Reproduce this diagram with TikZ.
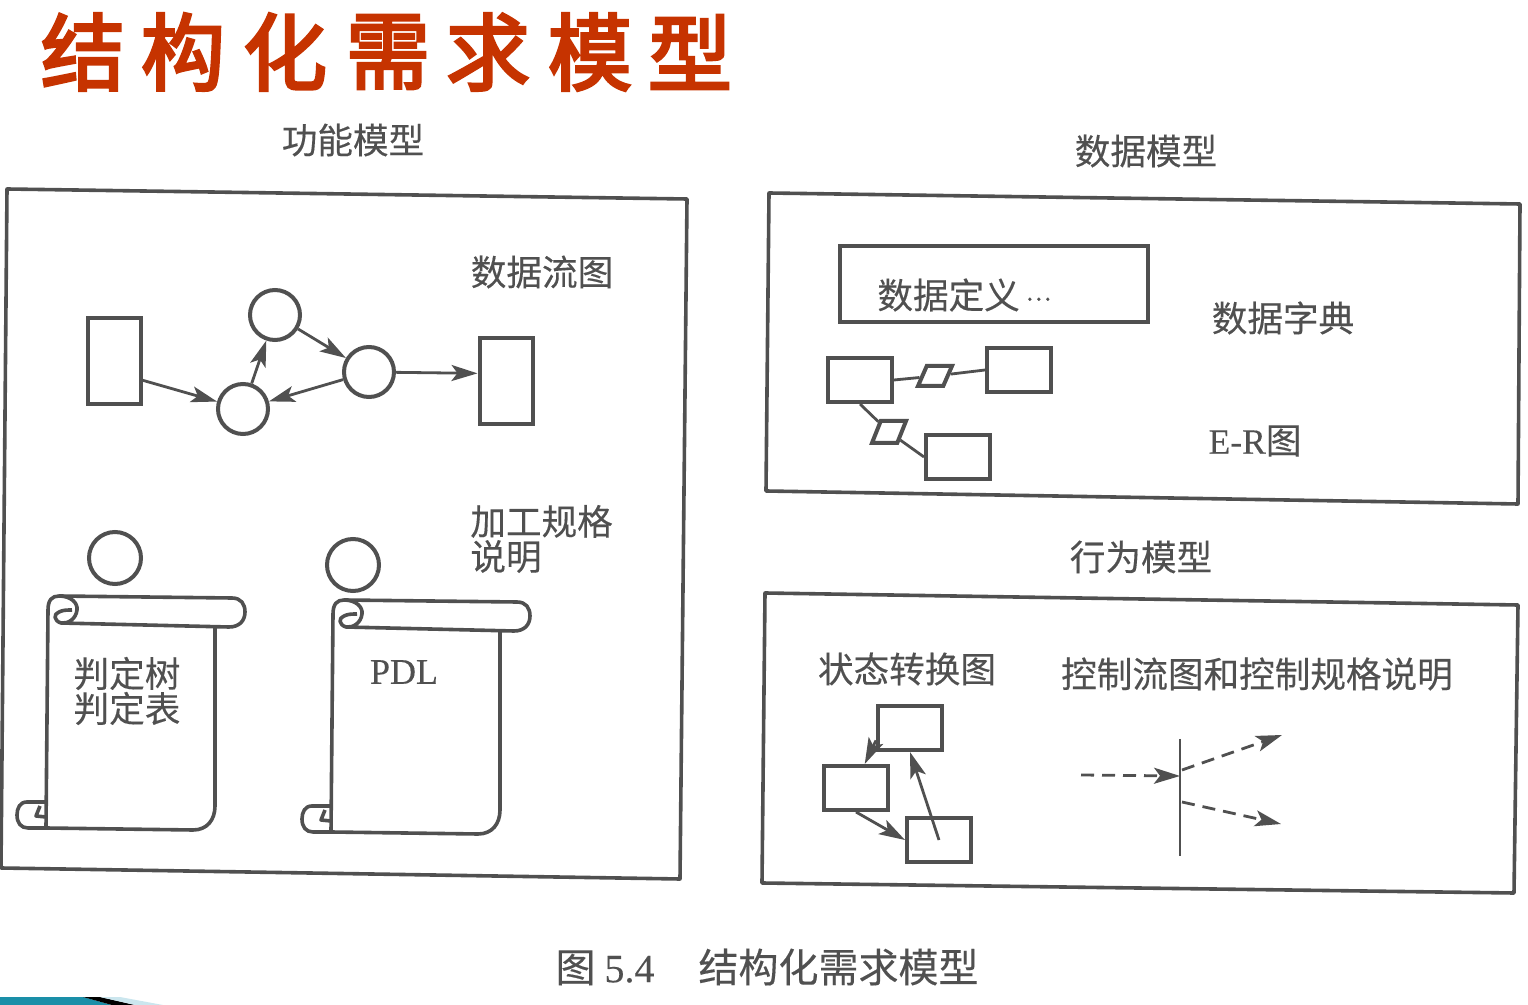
\documentclass[tikz,border=0pt]{standalone}
\usepackage{fontspec}
\setmainfont[FakeBold=0.3]{Liberation Serif}
\newfontfamily\cjk[FakeBold=0.3]{Noto Sans CJK SC}
\newfontfamily\cjktitle[FakeBold=3.5]{Noto Sans CJK SC}
\usetikzlibrary{arrows.meta,shapes.geometric}
\definecolor{inkgray}{HTML}{505050}
\definecolor{titlered}{HTML}{C63300}
\definecolor{cornerteal}{HTML}{1A8FA8}
\definecolor{cornerpale}{HTML}{CBE6EE}
\tikzset{
  frameline/.style={draw=inkgray, line width=1.8pt, line join=round},
  rectbox/.style={draw=inkgray, line width=2pt, rectangle, inner sep=0pt},
  proc/.style={draw=inkgray, line width=2pt, circle, inner sep=0pt, minimum size=25pt},
  rel/.style={draw=inkgray, line width=2pt, trapezium, trapezium left angle=62, trapezium right angle=118, inner sep=1pt, minimum width=17pt, minimum height=10pt, trapezium stretches=true},
  lbl/.style={text=inkgray, inner sep=0pt, align=left, font=\cjk\fontsize{17.8}{17.5}\selectfont},
  arr/.style={draw=inkgray, line width=1.4pt, -{Stealth[length=13pt, width=8pt, inset=3pt]}},
  dasharr/.style={arr, dash pattern=on 6.5pt off 4pt},
  plainline/.style={draw=inkgray, line width=1.4pt},
  sheet/.style={draw=inkgray, line width=1.8pt, line join=round},
  scrollsheet/.pic={
    \draw[sheet] (48,610) .. controls (48,600) and (52,596) .. (59,596) -- (232,598)
      .. controls (241,598) and (245,604) .. (245,612) .. controls (245,621) and (239,627) .. (229,627) -- (61,623);
    \draw[sheet] (59,596) .. controls (71,596) and (78,603) .. (77,610) .. controls (76,619) and (68,624) .. (61,623)
      .. controls (54,621) and (53,614) .. (59,612) .. controls (63,610) and (67,610) .. (72,610);
    \draw[sheet] (48,610) -- (46,828) -- (193,830) .. controls (207,830) and (215,820) .. (215,806) -- (215,627);
    \draw[sheet] (46,802) -- (27,802) .. controls (20,802) and (17,808) .. (17,815) .. controls (17,823) and (21,828) .. (28,828) -- (46,828);
    \draw[sheet] (40,806) -- (36,816) -- (46,817);
  }
}
\begin{document}
\begin{tikzpicture}[x=0.5pt,y=-0.5pt]
    \useasboundingbox (0,0) rectangle (1528,1005);

    \foreach \cx/\ch in {83/结,183/构,285/化,388/需,488/求,590/模,690/型} {
        \node[text=titlered, font=\cjktitle\fontsize{42}{42}\selectfont, inner sep=0pt] at (\cx,52) {\ch};
    }

    \draw[frameline] (7,189) -- (687,199) -- (680,879) -- (1,868) -- cycle;
    \draw[frameline] (769,193) -- (1520,204) -- (1518,504) -- (766,491) -- cycle;
    \draw[frameline] (765,593) -- (1518,605) -- (1514,893) -- (762,883) -- cycle;

    \node[lbl] at (353,140) {功能模型};
    \node[lbl] at (1146,151) {数据模型};
    \node[lbl] at (542,272) {数据流图};
    \node[lbl] at (1283,318) {数据字典};
    \node[lbl] at (1255,441) {{\rmfamily E-R}图};
    \node[lbl, anchor=west] at (470,539) {加工规格\\说明};
    \node[lbl] at (1141,557) {行为模型};
    \node[lbl] at (907,669) {状态转换图};
    \node[lbl] at (1257,674) {控制流图和控制规格说明};
    \node[lbl] at (127,691) {判定树\\判定表};
    \node[lbl, font=\rmfamily\fontsize{18}{17.5}\selectfont] at (404,672) {PDL};
    \node[lbl, font=\cjk\fontsize{20}{20}\selectfont] at (767,967) {图 {\rmfamily 5.4}\hspace{1.1em}结构化需求模型};

    \node[rectbox, minimum width=26.5pt, minimum height=43pt] (srcA) at (114,361) {};
    \node[rectbox, minimum width=26.5pt, minimum height=43pt] (dstB) at (506,381) {};
    \node[proc] (c1) at (275,315) {};
    \node[proc] (c2) at (369,372) {};
    \node[proc] (c3) at (243,409) {};
    \draw[arr] (srcA.-34) -- (c3);
    \draw[arr] (c3) -- (c1);
    \draw[arr] (c1) -- (c2);
    \draw[arr] (c2) -- (c3);
    \draw[arr] (c2) -- (dstB.165);

    \pic at (0,0) {scrollsheet};
    \pic at (285,4) {scrollsheet};
    \node[proc, minimum size=26pt] (p1) at (115,558) {};
    \node[proc, minimum size=26pt] (p2) at (353,565) {};

    \node[rectbox, minimum width=154pt, minimum height=38pt] (dict) at (994,284) {};
    \node[lbl, anchor=west] (dicttext) at (877,295) {数据定义\,\raisebox{4pt}{\fontsize{12}{12}\selectfont …}};
    \node[rectbox, minimum width=32pt, minimum height=22pt] (e1) at (860,380) {};
    \node[rectbox, minimum width=32pt, minimum height=22pt] (e2) at (1019,370) {};
    \node[rectbox, minimum width=32pt, minimum height=22pt] (e3) at (958,457) {};
    \node[rel] (r1) at (935,376) {};
    \node[rel, minimum height=11pt] (r2) at (889,432) {};
    \draw[plainline] (e1.east) -- (r1);
    \draw[plainline] (r1) -- (e2.west);
    \draw[plainline] (e1.south) -- (r2);
    \draw[plainline] (r2) -- (e3.west);

    \node[rectbox, minimum width=32pt, minimum height=22pt] (s1) at (910,728) {};
    \node[rectbox, minimum width=32pt, minimum height=22pt] (s2) at (856,788) {};
    \node[rectbox, minimum width=32pt, minimum height=22pt] (s3) at (939,840) {};
    \draw[arr] (s1.200) -- (s2.70);
    \draw[arr] (s2.south) -- (s3.west);
    \draw[arr] (s3.center) -- (s1.south);

    \coordinate (bartop) at (1180,739);
    \coordinate (barbot) at (1180,856);
    \coordinate (inA) at (1081,775);
    \coordinate (inB) at (1180,776);
    \coordinate (outA) at (1182,770);
    \coordinate (outB) at (1282,735);
    \coordinate (outC) at (1182,802);
    \coordinate (outD) at (1281,824);
    \draw[plainline] (bartop) -- (barbot);
    \draw[dasharr] (inA) -- (inB);
    \draw[dasharr] (outA) -- (outB);
    \draw[dasharr] (outC) -- (outD);

    \fill[cornerteal] (0,997) -- (83,997) -- (112,1005) -- (0,1005) -- cycle;
    \fill[black] (83,997) -- (100,997) -- (135,1005) -- (112,1005) -- cycle;
    \fill[cornerpale] (100,997) -- (120,997) -- (163,1005) -- (135,1005) -- cycle;
\end{tikzpicture}
\end{document}
